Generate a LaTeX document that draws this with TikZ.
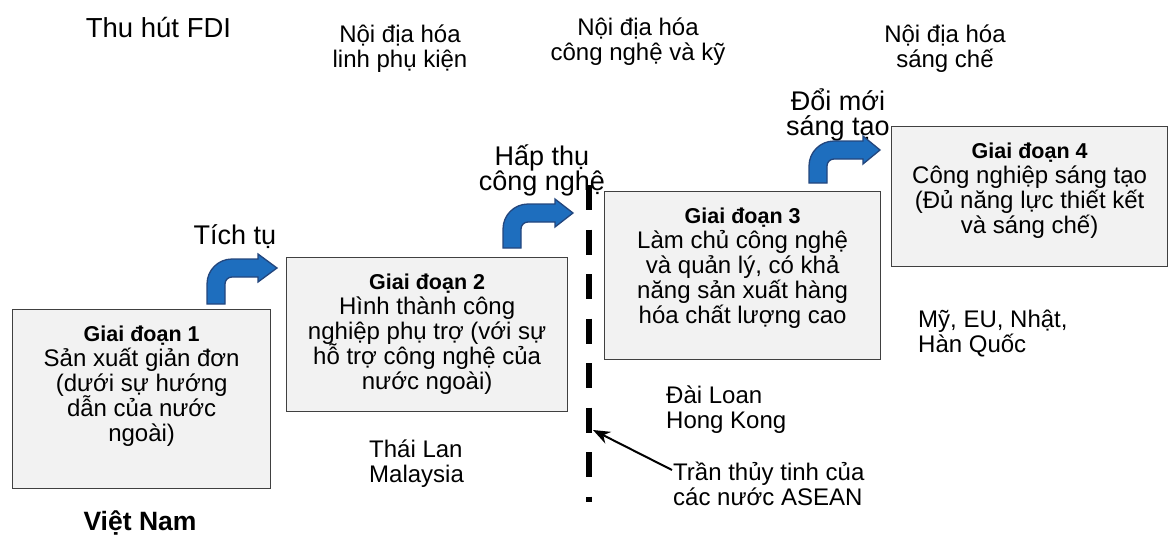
\documentclass[tikz,border=0pt]{standalone}
\usepackage{fontspec}
\setmainfont{Liberation Sans}
\usetikzlibrary{calc,arrows.meta}
\definecolor{boxfill}{RGB}{242,242,242}
\definecolor{boxline}{RGB}{64,64,64}
\definecolor{arrfill}{RGB}{30,110,190}
\definecolor{arrline}{RGB}{35,70,125}
\newcommand\fl{\rule{0pt}{24pt}}
\newcommand\ttl[1]{{\fontsize{21.5}{25}\selectfont\bfseries #1}}
\newcommand\bentarr[5]{% L B yc xh xt
  \filldraw[arrowshape] (#1,#2) -- (#1,{#3-9+25})
    .. controls (#1,{#3-9+11.2}) and ({#1+11.2},{#3-9}) .. ({#1+25},{#3-9})
    -- (#4,{#3-9}) -- (#4,{#3-14}) -- (#5,#3) -- (#4,{#3+14}) -- (#4,{#3+9})
    -- ({#1+25},{#3+9})
    .. controls ({#1+21.1},{#3+9}) and ({#1+18},{#3+12.1}) .. ({#1+18},{#3+16})
    -- ({#1+18},#2) -- cycle;}
\tikzset{
  lbl/.style={inner sep=0pt, align=center, font={\fontsize{24}{25}\selectfont\lineskiplimit=-100pt}},
  biglbl/.style={inner sep=0pt, align=center, anchor=north, font={\fontsize{27}{25}\selectfont\lineskiplimit=-100pt}},
  lbll/.style={inner sep=0pt, align=left, anchor=north west, font={\fontsize{24}{25}\selectfont\lineskiplimit=-100pt}},
  stagebox/.style={draw=boxline, fill=boxfill, line width=1.3pt, inner sep=0pt, anchor=north west},
  arrowshape/.style={fill=arrfill, draw=arrline, line width=1.3pt, line join=miter},
  ceiling/.style={line width=6.5pt, dash pattern=on 25pt off 19.5pt},
  ceilarrow/.style={line width=2pt, -{Stealth[length=17pt,width=13pt]}}
}
\begin{document}
\begin{tikzpicture}[x=1pt,y=-1pt]
\path[use as bounding box] (0,0) rectangle (1171,541);

% top labels
\node[lbl, anchor=north, font={\fontsize{27.5}{30}\selectfont}] (fdi) at (158.5,13) {\fl Thu hút FDI};
\node[lbl, anchor=north] (loc1) at (400,18) {\fl Nội địa hóa\\linh phụ kiện};
\node[lbl, anchor=north] (loc2) at (638,11) {\fl Nội địa hóa\\công nghệ và kỹ};
\begin{scope}
\clip (0,0) rectangle (1171,78);
\node[lbl, anchor=north] (loc3) at (945,18) {\fl Nội địa hóa\\sáng chế};
\end{scope}
\node[biglbl] (innov) at (838,86) {\fl Đổi mới\\sáng tạo};
\node[biglbl] (absorb) at (542,141) {\fl Hấp thụ\\công nghệ};
\node[biglbl] (accum) at (235,220) {\fl Tích tụ};

% boxes
\node[stagebox, minimum width=258, minimum height=179] (b1) at (12,309) {};
\node[stagebox, minimum width=281, minimum height=154] (b2) at (286,257) {};
\node[stagebox, minimum width=276, minimum height=168] (b3) at (604,191) {};
\node[stagebox, minimum width=276, minimum height=140] (b4) at (891,126) {};

\node[lbl, anchor=north] (t1) at ($(b1.north)+(0,8)$) {\fl\ttl{Giai đoạn 1}\\Sản xuất giản đơn\\(dưới sự hướng\\dẫn của nước\\ngoài)};
\node[lbl, anchor=north] (t2) at ($(b2.north)+(0,8)$) {\fl\ttl{Giai đoạn 2}\\Hình thành công\\nghiệp phụ trợ (với sự\\hỗ trợ công nghệ của\\nước ngoài)};
\node[lbl, anchor=north] (t3) at ($(b3.north)+(0,8)$) {\fl\ttl{Giai đoạn 3}\\Làm chủ công nghệ\\và quản lý, có khả\\năng sản xuất hàng\\hóa chất lượng cao};
\node[lbl, anchor=north] (t4) at ($(b4.north)+(0,8)$) {\fl\ttl{Giai đoạn 4}\\Công nghiệp sáng tạo\\(Đủ năng lực thiết kết\\và sáng chế)};

% bent arrows
\bentarr{207}{304}{268}{258}{277}
\bentarr{503}{248}{213}{555}{573}
\bentarr{809}{183}{150}{863}{880}

% country labels
\node[lbll] (th) at (369,433) {\fl Thái Lan\\Malaysia};
\node[lbll] (tw) at (666,379) {\fl Đài Loan\\Hong Kong};
\node[lbll] (us) at (918,303) {\fl Mỹ, EU, Nhật,\\Hàn Quốc};
\node[lbll] (ceiltxt) at (673,456) {\fl Trần thủy tinh của\\các nước ASEAN};
\node[lbl, anchor=north, font={\fontsize{26.5}{28}\selectfont\bfseries}] (vn) at (140,506) {\fl Việt Nam};

% glass ceiling
\coordinate (dtop) at (589,185);
\coordinate (dbot) at (589,502);
\draw[ceiling] (dtop) -- (dbot);
\coordinate (ceilpt) at (593,430);
\draw[ceilarrow] ($(ceiltxt.north west)+(-1,14)$) -- (ceilpt);
\end{tikzpicture}
\end{document}
